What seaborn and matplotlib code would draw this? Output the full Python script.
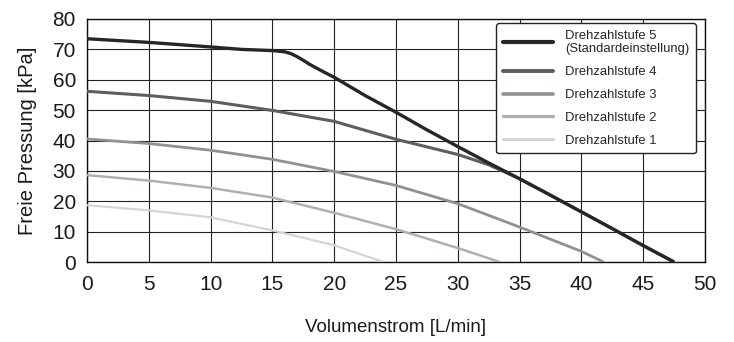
import matplotlib
matplotlib.use("Agg")
import matplotlib.pyplot as plt
import seaborn as sns
import pandas as pd

# ---- data ----
x5 = [0, 5, 10, 12.5, 15, 16, 16.5, 17, 17.5, 18, 19, 20, 22.5, 25, 27.5, 30, 32.5, 35, 37.5, 40, 42.5, 45, 47.5]
y5 = [73.5, 72.3, 70.8, 70.0, 69.6, 69.2, 68.6, 67.6, 66.4, 65.1, 62.9, 60.8, 54.8, 49.3, 43.5, 38.0, 32.6, 27.4, 22.0, 16.5, 11.0, 5.4, 0]

x4 = [0, 5, 10, 15, 20, 25, 30, 32.5, 35, 40, 45, 47.5]
y4 = [56.2, 54.8, 52.9, 49.9, 46.3, 40.4, 35.4, 32.0, 27.4, 16.5, 5.4, 0]

x3 = [0, 5, 10, 15, 20, 25, 30, 35, 40, 41.8]
y3 = [40.5, 39.0, 36.8, 33.8, 29.8, 25.2, 19.2, 11.5, 3.5, 0]

x2 = [0, 5, 10, 15, 20, 25, 30, 33.4]
y2 = [28.6, 26.8, 24.4, 21.2, 16.2, 10.8, 4.6, 0]

x1 = [0, 5, 10, 15, 20, 24]
y1 = [18.7, 17.0, 14.7, 10.4, 5.5, 0]

labels = ["Drehzahlstufe 5\n(Standardeinstellung)", "Drehzahlstufe 4",
          "Drehzahlstufe 3", "Drehzahlstufe 2", "Drehzahlstufe 1"]
x_ticks = [0, 5, 10, 15, 20, 25, 30, 35, 40, 45, 50]
y_ticks = [0, 10, 20, 30, 40, 50, 60, 70, 80]

colors = ["#262626", "#5b5f61", "#8f9294", "#adb1b3", "#d3d6d6"]
widths = [2.4, 2.2, 2.0, 1.8, 1.6]

sns.set_theme(style="white")
plt.rcParams["font.family"] = ["Liberation Sans", "DejaVu Sans"]

fig = plt.figure(figsize=(7.34, 3.42), dpi=100)
ax = fig.add_axes([87 / 734, 1 - 262 / 342, (705 - 87) / 734, (262 - 19) / 342])

series = [(x5, y5), (x4, y4), (x3, y3), (x2, y2), (x1, y1)]
for i, (xs, ys) in reversed(list(enumerate(series))):
    df = pd.DataFrame({"x": xs, "y": ys})
    sns.lineplot(data=df, x="x", y="y", ax=ax, color=colors[i], linewidth=widths[i],
                 zorder=3 + (5 - i), solid_capstyle="butt")
handles = [plt.Line2D([], [], color=colors[i], linewidth=widths[i] + 0.6) for i in range(5)]

ax.set_xlim(0, 50)
ax.set_ylim(0, 80)
ax.set_xticks(x_ticks)
ax.set_yticks(y_ticks)
ax.grid(True, color="#222222", linewidth=0.8)
ax.set_axisbelow(True)
for s in ax.spines.values():
    s.set_color("#111111")
    s.set_linewidth(1.0)
ax.tick_params(axis="both", length=0, labelsize=15, colors="#1a1a1a")
ax.tick_params(axis="x", pad=9)
ax.tick_params(axis="y", pad=8)
ax.set_xlabel("Volumenstrom [L/min]", fontsize=13.5, color="#1a1a1a", labelpad=18)
ax.set_ylabel("Freie Pressung [kPa]", fontsize=14.5, color="#1a1a1a", labelpad=11)

leg = ax.legend(handles, labels, loc="upper right", bbox_to_anchor=(0.996, 1.01),
                frameon=True, fancybox=True, handlelength=3.9,
                handletextpad=0.9, labelspacing=0.82, borderpad=0.5,
                prop={"family": ["Liberation Sans Narrow", "Liberation Sans"], "size": 9.4})
leg.get_frame().set_edgecolor("#222222")
leg.get_frame().set_linewidth(1.0)
leg.get_frame().set_alpha(1)
leg.set_zorder(20)

fig.savefig("out.png", dpi=100)
